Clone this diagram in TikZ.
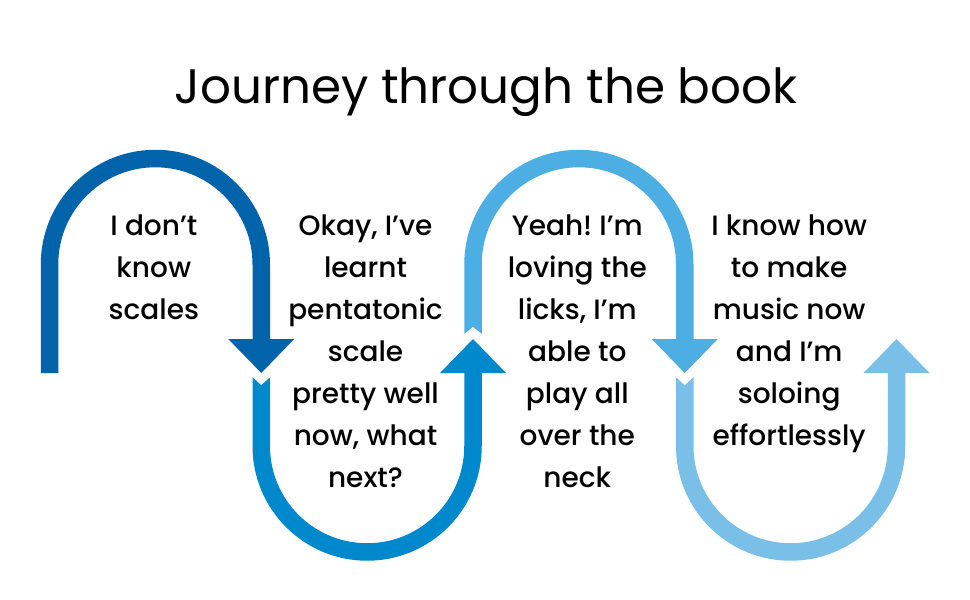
\documentclass[tikz,border=0pt]{standalone}
\usepackage{fontspec}
\setmainfont{Poppins}
\newfontfamily\bodyfont{Poppins Medium}
\frenchspacing
\definecolor{cA}{RGB}{1,99,170}
\definecolor{cB}{RGB}{0,136,204}
\definecolor{cC}{RGB}{77,174,227}
\definecolor{cD}{RGB}{121,191,232}
\begin{document}
\begin{tikzpicture}[x=1pt,y=-1pt,
  band/.style={line width=17.5pt},
  notch/.style={fill=white},
  blocktext/.style={anchor=north,inner sep=0pt,align=center,font=\bodyfont\frenchspacing\fontsize{28}{42}\selectfont}]
\useasboundingbox[fill=white] (0,0) rectangle (970,600);
\node[anchor=base,inner sep=0pt,font=\fontsize{48.4}{52}\selectfont] (title) at (486,103) {Journey through the book};
% shape 1
\draw[cA,band] (49.5,373) -- (49.5,264.4) arc[start angle=180,end angle=360,radius=105.875] -- (261.25,340);
\fill[cA] (228.25,339) -- (294.25,339) -- (261.25,373) -- cycle;
% shape 2
\draw[cB,band] (261.25,377) -- (261.25,446.1) arc[start angle=180,end angle=0,radius=105.875] -- (473,372);
\fill[notch] (251.25,376) -- (271.25,376) -- (261.25,385) -- cycle;
\fill[cB] (440,373) -- (506,373) -- (473,339) -- cycle;
% shape 3
\draw[cC,band] (473,334) -- (473,264.4) arc[start angle=180,end angle=360,radius=105.875] -- (684.75,340);
\fill[notch] (463,335) -- (483,335) -- (473,327) -- cycle;
\fill[cC] (651.75,339) -- (717.75,339) -- (684.75,373) -- cycle;
% shape 4
\draw[cD,band] (684.75,377) -- (684.75,446.1) arc[start angle=180,end angle=0,radius=105.875] -- (896.5,372);
\fill[notch] (674.75,376) -- (694.75,376) -- (684.75,385) -- cycle;
\fill[cD] (863.5,373) -- (929.5,373) -- (896.5,339) -- cycle;
% texts
\node[blocktext] (t1) at (153.8,214.5) {I don’t\\know\\scales};
\node[blocktext] (t2) at (365.5,214.5) {Okay, I’ve\\learnt\\pentatonic\\scale\\pretty well\\now, what\\next?};
\node[blocktext] (t3) at (577.3,214.5) {Yeah! I’m\\loving the\\licks, I’m\\able to\\play all\\over the\\neck};
\node[blocktext] (t4) at (789.2,214.5) {I know how\\to make\\music now\\and I’m\\soloing\\effortlessly};
\end{tikzpicture}
\end{document}
